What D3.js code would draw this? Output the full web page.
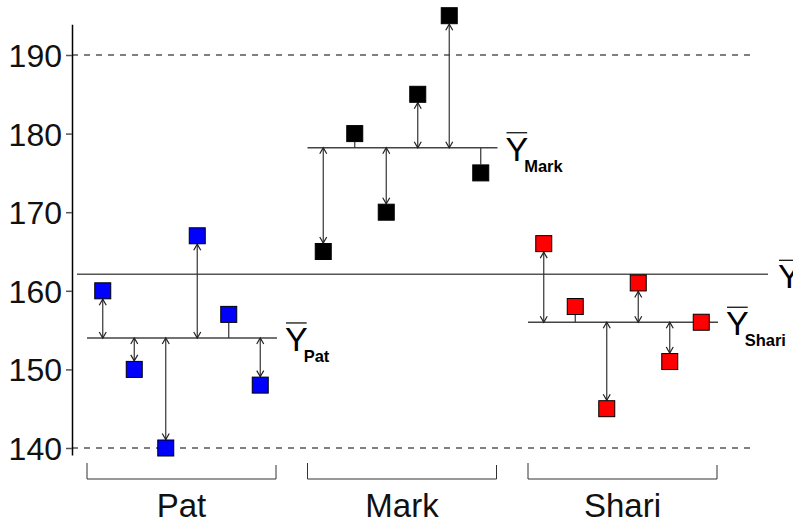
<!DOCTYPE html>
<html><head><meta charset="utf-8">
<script src="https://cdn.jsdelivr.net/npm/d3@7"></script>
<style>body{margin:0;background:#fff}svg{display:block}text{font-family:"Liberation Sans",Arial,sans-serif}</style>
</head><body>
<svg id="c" width="793" height="523"></svg>
<script>
const categories = ["Pat", "Mark", "Shari"];
const colors = ["#0000ff", "#000000", "#ff0000"];
const patValues = [160, 150, 140, 167, 157, 148];
const markValues = [165, 180, 170, 185, 195, 175];
const shariValues = [166, 158, 145, 161, 151, 156];
const groupMeans = [154, 178.2, 156];
const grandMean = 162.1;
const yTicks = [140, 150, 160, 170, 180, 190];
const dashedRefs = [140, 190];

const series = [patValues, markValues, shariValues];
const svg = d3.select("#c");
const y = d3.scaleLinear().domain([140, 190]).range([448, 55]);
const axisX = 72;
const xg = d3.scaleBand().domain(categories).range([87, 717]).paddingInner(31.5/220.5).paddingOuter(0);
const xi = d3.scalePoint().domain(d3.range(6)).range([0, xg.bandwidth()]).padding(0.5);

// marker
const defs = svg.append("defs");
defs.append("marker").attr("id","ah").attr("markerUnits","userSpaceOnUse")
  .attr("markerWidth",10).attr("markerHeight",10).attr("viewBox","-1 -5 8 10")
  .attr("refX",6).attr("refY",0).attr("orient","auto-start-reverse")
  .append("path").attr("d","M0,-3.5L6,0L0,3.5").attr("fill","none").attr("stroke","#222").attr("stroke-width",1.2);

// dashed refs
svg.selectAll(".ref").data(dashedRefs).join("line")
  .attr("x1", axisX).attr("x2", 750).attr("y1", d=>y(d)).attr("y2", d=>y(d))
  .attr("stroke","#000").attr("stroke-width",1).attr("stroke-dasharray","6,6");

// axis
const yAxisScale = y.copy().domain([139.1, 193.9]).range([y(139.1), y(193.9)]);
const ax = svg.append("g").attr("transform",`translate(${axisX},0)`)
  .call(d3.axisLeft(yAxisScale).tickValues(yTicks).tickSize(6).tickSizeOuter(0).tickPadding(4).tickFormat(d3.format("d")));
ax.select(".domain").attr("stroke","#000").attr("stroke-width",1.5);
ax.selectAll(".tick line").attr("stroke","#555").attr("stroke-width",1.5);
ax.selectAll(".tick text").attr("font-size",32).attr("fill","#111").attr("font-family","Liberation Sans, Arial, sans-serif").attr("dy","0.36em");

// grand mean line
svg.append("line").attr("x1",77).attr("x2",768).attr("y1",y(grandMean)).attr("y2",y(grandMean))
  .attr("stroke","#555").attr("stroke-width",1.5);

function ybar(x, baseY, sub) {
  const g = svg.append("g");
  const t = g.append("text").attr("x",x).attr("y",baseY).attr("font-size",34).attr("fill","#000").text("Y");
  const w = t.node().getComputedTextLength();
  g.append("line").attr("x1",x+1).attr("x2",x+w-1).attr("y1",baseY-28).attr("y2",baseY-28).attr("stroke","#000").attr("stroke-width",1.2);
  if (sub) g.append("text").attr("x",x+w-4).attr("y",baseY+11).attr("font-size",16.5).attr("font-weight","bold").attr("fill","#000").text(sub);
}

series.forEach((vals, gi) => {
  const cat = categories[gi];
  const x0 = xg(cat);
  const m = groupMeans[gi];
  const ym = y(m);
  // mean line
  svg.append("line").attr("x1",x0).attr("x2",x0+xg.bandwidth()+1).attr("y1",ym).attr("y2",ym)
    .attr("stroke","#444").attr("stroke-width",1.5);
  // connectors
  vals.forEach((v,i) => {
    const cx = x0 + xi(i);
    const d = v - m;
    if (Math.abs(d) < 0.5) return;
    const edge = y(v) + (d > 0 ? 8.5 : -8.5);
    const ln = svg.append("line").attr("x1",cx).attr("x2",cx).attr("y1",ym).attr("y2",edge)
      .attr("stroke","#333").attr("stroke-width",1.2);
    if (Math.abs(d) >= 3.5) ln.attr("marker-start","url(#ah)").attr("marker-end","url(#ah)");
  });
  // points
  svg.selectAll(".p"+gi).data(vals).join("rect")
    .attr("x",(v,i)=>x0+xi(i)-8).attr("y",v=>y(v)-8).attr("width",16).attr("height",16)
    .attr("fill",colors[gi]).attr("stroke","#000").attr("stroke-width",1);
  // bracket
  const bx1 = x0, bx2 = x0 + xg.bandwidth();
  svg.append("path").attr("d",`M${bx1},463V479H${bx2}V465`).attr("fill","none").attr("stroke","#333").attr("stroke-width",1);
  svg.append("text").attr("x",(bx1+bx2)/2).attr("y",517).attr("text-anchor","middle").attr("font-size",33).attr("fill","#111").text(cat);
  ybar(bx2+9, ym+13, cat);
});
ybar(778, y(grandMean)+14, null);
</script>
</body></html>
